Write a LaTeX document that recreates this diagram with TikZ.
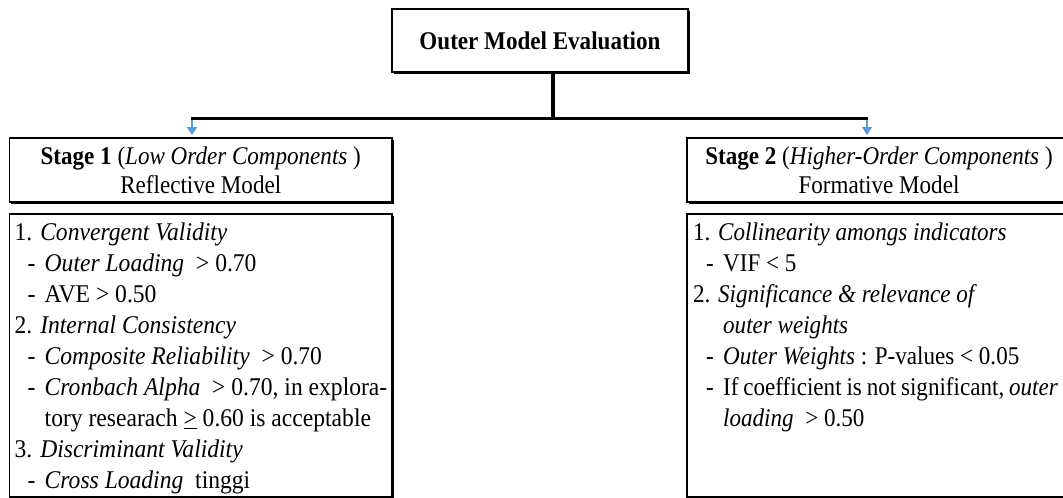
\documentclass[tikz,border=0pt]{standalone}
\usepackage{fontspec}
\setmainfont{Liberation Serif}[FakeStretch=0.905]
\newfontfamily\leftfont{Liberation Serif}[FakeStretch=0.925]
\usetikzlibrary{arrows.meta,shadows}
\definecolor{arrowblue}{RGB}{91,155,213}
\newcommand{\dsh}{\makebox[30pt][l]{\hspace{13pt}-}}
\newcommand{\cnt}{\hspace*{30pt}}
\begin{document}
\begin{tikzpicture}[x=1pt,y=-1pt,
  box/.style={draw=black, line width=1.6pt, fill=white, inner sep=0pt, outer sep=0pt,
    drop shadow={shadow xshift=1.6pt, shadow yshift=-1.6pt, fill=black, opacity=1}},
  txt/.style={anchor=base west, inner sep=0pt, font=\fontsize{25.5}{31}\selectfont},
  conn/.style={line width=4pt, draw=black},
  bluearrow/.style={draw=arrowblue, line width=1.5pt, -{Triangle[width=10pt,length=8pt]}, shorten >=3pt}]
\useasboundingbox (0,0) rectangle (1063,498);
\clip (0,0) rectangle (1063,498);
\fill[white] (0,0) rectangle (1063,498);

% boxes
\node[box, anchor=north west, minimum width=296pt, minimum height=63pt,
  font=\bfseries\fontsize{25.5}{31}\selectfont] (top) at (392,9) {Outer Model Evaluation};
\node[box, anchor=north west, minimum width=382.5pt, minimum height=64pt, align=center,
  font=\fontsize{25.5}{29}\selectfont] (s1) at (9.5,138)
  {\textbf{Stage 1} (\textit{Low Order Components} )\\Reflective Model};
\node[box, anchor=north west, minimum width=384pt, minimum height=64pt, align=center,
  font=\fontsize{25.5}{29}\selectfont] (s2) at (687,138)
  {\textbf{Stage 2} (\textit{Higher-Order Components} )\\Formative Model};
\node[box, anchor=north west, minimum width=382.5pt, minimum height=283pt] (c1) at (9.5,214) {};
\node[box, anchor=north west, minimum width=384pt, minimum height=283pt] (c2) at (687,214) {};

% connectors
\coordinate (j) at (553,118);
\coordinate (a1) at (192,118);
\coordinate (a2) at (867,118);
\draw[bluearrow] (a1) -- (a1 |- s1.north);
\draw[bluearrow] (a2) -- (a2 |- s2.north);
\draw[conn] (j |- top.south) -- (j);
\draw[line width=3pt] ([xshift=-1pt]a1) -- ([xshift=1pt]a2);

% left text
\foreach \t [count=\i] in {
  {1. \textit{Convergent Validity}},
  {\dsh\textit{Outer Loading}\ \ > 0.70},
  {\dsh AVE > 0.50},
  {2. \textit{Internal Consistency}},
  {\dsh\textit{Composite Reliability}\ \ > 0.70},
  {\dsh\textit{Cronbach Alpha}\ \ > 0.70, in explora-},
  {\cnt tory researach \underline{>} 0.60 is acceptable},
  {3. \textit{Discriminant Validity}},
  {\dsh\textit{Cross Loading}\ \ tinggi}}
  \node[txt, font=\leftfont\fontsize{25.5}{31}\selectfont] (l\i) at (14.5,{240.7+31*(\i-1)}) {\t};

% right text
\foreach \t [count=\i] in {
  {1. \textit{Collinearity amongs indicators}},
  {\dsh VIF < 5},
  {2. \textit{Significance \& relevance of}},
  {\cnt\textit{outer weights}},
  {\dsh\textit{Outer Weights} : P-values < 0.05},
  {\dsh\spaceskip=0.19em If coefficient is not significant, \textit{outer}},
  {\cnt\textit{loading}\ \ > 0.50}}
  \node[txt] (r\i) at (693,{240.7+31*(\i-1)}) {\t};
\end{tikzpicture}
\end{document}
